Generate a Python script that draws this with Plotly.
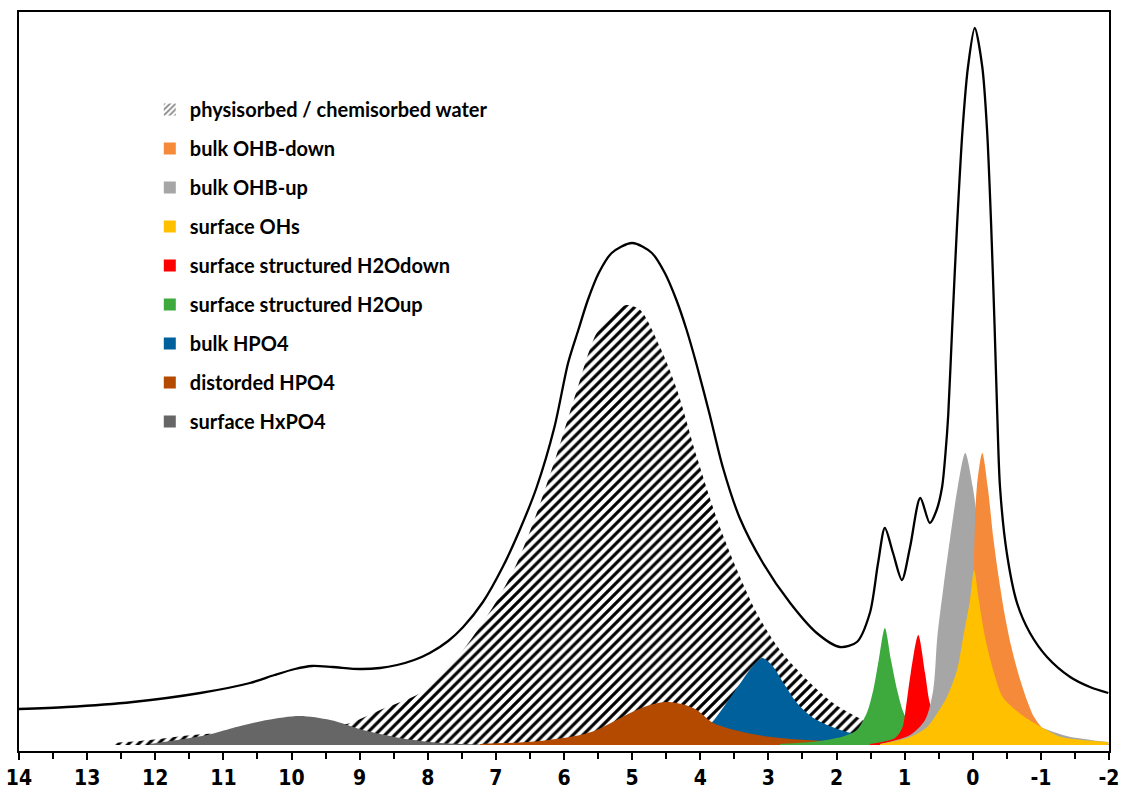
import plotly.graph_objects as go

# ---------------- data ----------------
# chemical shift (ppm) and intensity (arbitrary units)
ENV_PPM = [14.00, 13.30, 12.33, 11.34, 10.61, 10.25, 9.95, 9.70, 9.40, 9.00, 8.70, 8.45, 8.20,
           7.97, 7.70, 7.48, 7.19, 6.90, 6.65, 6.40, 6.14, 5.94, 5.79, 5.65, 5.49, 5.30, 5.00,
           4.71, 4.52, 4.35, 4.20, 4.06, 3.86, 3.67, 3.42, 3.08, 2.68, 2.29, 1.95,
           1.70, 1.51, 1.39, 1.29, 1.17, 1.04, 0.92, 0.77, 0.63, 0.53, 0.45, 0.40, 0.36,
           0.30, 0.23, 0.15, 0.07, -0.03, -0.14, -0.21, -0.27, -0.32, -0.36, -0.40, -0.50,
           -0.65, -0.84, -1.09, -1.43, -1.72, -1.99]
ENV_I = [36, 38, 43, 52, 62, 70, 76, 79, 78, 76, 77, 80, 85,
         92, 104, 118, 143, 178, 215, 258, 318, 382, 415, 445, 472, 492, 502,
         492, 472, 445, 415, 382, 330, 278, 227, 182, 142, 112, 98,
         103, 132, 182, 217, 192, 165, 198, 247, 222, 235, 258, 292, 330,
         420, 520, 615, 678, 717, 678, 615, 520, 420, 330, 258, 192,
         142, 112, 88, 68, 58, 52]

WATER_PPM = [12.62, 12.08, 11.45, 10.61, 9.88, 9.19, 8.70, 8.11, 7.72, 7.34, 6.98, 6.69, 6.40,
             6.10, 5.81, 5.52, 5.22, 5.08, 4.88, 4.59, 4.34, 4.05, 3.75, 3.46, 3.17, 2.83,
             2.43, 2.05, 1.70, 1.36, 0.77, 0.04, -0.99, -1.99]
WATER_I = [2, 5, 10, 14, 18, 21, 35, 52, 75, 108, 145, 182, 232,
           292, 355, 412, 435, 440, 435, 398, 355, 288, 225, 175, 132, 95,
           65, 42, 28, 18, 10, 5, 2, 1]

HXPO4_PPM = [12.08, 11.24, 10.86, 10.36, 9.88, 9.43, 8.95, 8.41, 7.82, 6.94]
HXPO4_I = [1, 10, 17, 25, 29, 25, 15, 7, 2, 0]

DIST_PPM = [7.23, 6.35, 5.76, 5.52, 5.03, 4.74, 4.49, 4.22, 4.05, 3.81, 3.31, 2.83, 1.85, 0.33]
DIST_I = [1, 4, 10, 15, 32, 40, 43, 40, 35, 22, 12, 7, 3, 1]

BULKP_PPM = [4.74, 4.00, 3.71, 3.42, 3.24, 3.09, 2.95, 2.76, 2.58, 2.34, 1.85, 1.07, -0.40, -1.99]
BULKP_I = [3, 10, 33, 61, 78, 87, 80, 60, 42, 27, 13, 6, 2, 1]

H2OUP_PPM = [2.83, 2.24, 1.88, 1.70, 1.55, 1.46, 1.38, 1.29, 1.20, 1.11, 1.02, 0.88, 0.63, 0.04, -1.13]
H2OUP_I = [1, 4, 9, 15, 33, 55, 85, 117, 85, 55, 33, 15, 7, 3, 1]

H2ODN_PPM = [1.51, 1.14, 1.03, 0.98, 0.91, 0.80, 0.70, 0.63, 0.52, 0.33, -0.11, -1.13]
H2ODN_I = [1, 7, 18, 38, 72, 110, 72, 42, 23, 10, 4, 1]

OHUP_PPM = [1.36, 0.92, 0.70, 0.58, 0.52, 0.43, 0.33, 0.22, 0.11, 0.00, -0.10, -0.21, -0.32,
            -0.43, -0.63, -0.88, -1.38, -1.99]
OHUP_I = [1, 10, 25, 55, 108, 158, 208, 258, 292, 258, 208, 145, 95,
          60, 38, 22, 9, 3]

OHDN_PPM = [0.63, 0.26, 0.07, 0.00, -0.06, -0.14, -0.22, -0.30, -0.38, -0.47, -0.56, -0.65,
            -0.72, -0.80, -0.90, -1.10, -1.50, -1.99]
OHDN_I = [1, 10, 45, 145, 258, 292, 258, 208, 168, 130, 100, 76,
          60, 44, 28, 12, 4, 1]

SURF_PPM = [1.36, 0.92, 0.67, 0.52, 0.38, 0.23, 0.14, 0.04, -0.02, -0.09, -0.18, -0.30, -0.44,
            -0.72, -1.03, -1.30, -1.99]
SURF_I = [1, 8, 18, 32, 48, 75, 108, 145, 175, 145, 108, 75, 48,
          30, 17, 8, 3]

LEGEND_NAMES = ["physisorbed / chemisorbed water", "bulk OHB-down", "bulk OHB-up",
                "surface OHs", "surface structured H2Odown", "surface structured H2Oup",
                "bulk HPO4", "distorded HPO4", "surface HxPO4"]
COLORS = {
    "bulk OHB-down": "#F58A3A",
    "bulk OHB-up": "#A6A6A6",
    "surface OHs": "#FFC000",
    "surface structured H2Odown": "#FF0000",
    "surface structured H2Oup": "#3EAA3E",
    "bulk HPO4": "#00609C",
    "distorded HPO4": "#B34A00",
    "surface HxPO4": "#666666",
}

TICK_VALS = [14, 13, 12, 11, 10, 9, 8, 7, 6, 5, 4, 3, 2, 1, 0, -1, -2]
TICK_TEXT = ["14", "13", "12", "11", "10", "9", "8", "7", "6", "5", "4", "3", "2", "1", "0",
             "-1", "-2"]

# ---------------- figure ----------------
fig = go.Figure()

# hatched water component (behind everything)
fig.add_trace(go.Scatter(
    x=WATER_PPM, y=WATER_I, mode="lines", fill="tozeroy",
    line=dict(width=0, shape="spline", smoothing=0.8, color="black"),
    fillpattern=dict(shape="/", fgcolor="black", bgcolor="rgba(255,255,255,0)",
                     size=7, solidity=0.45, fillmode="replace"),
    showlegend=False, hoverinfo="skip"))

components = [
    ("surface HxPO4", HXPO4_PPM, HXPO4_I),
    ("bulk HPO4", BULKP_PPM, BULKP_I),
    ("distorded HPO4", DIST_PPM, DIST_I),
    ("surface structured H2Oup", H2OUP_PPM, H2OUP_I),
    ("surface structured H2Odown", H2ODN_PPM, H2ODN_I),
    ("bulk OHB-up", OHUP_PPM, OHUP_I),
    ("bulk OHB-down", OHDN_PPM, OHDN_I),
    ("surface OHs", SURF_PPM, SURF_I),
]
for name, xs, ys in components:
    fig.add_trace(go.Scatter(
        x=xs, y=ys, mode="lines", fill="tozeroy",
        line=dict(width=0, shape="spline", smoothing=0.8, color=COLORS[name]),
        fillcolor=COLORS[name], showlegend=False, hoverinfo="skip"))

# envelope
fig.add_trace(go.Scatter(
    x=ENV_PPM, y=ENV_I, mode="lines",
    line=dict(width=2.3, shape="spline", smoothing=0.8, color="black"),
    showlegend=False, hoverinfo="skip"))

# legend entries (square swatches)
for name in LEGEND_NAMES:
    if name.startswith("physisorbed"):
        marker = dict(color="white", line=dict(width=0),
                      pattern=dict(shape="/", fgcolor="black", bgcolor="white",
                                   size=5, solidity=0.4))
    else:
        marker = dict(color=COLORS[name], line=dict(width=0))
    fig.add_trace(go.Bar(x=[None], y=[None], name=name, marker=marker,
                         legendgroup=name, showlegend=True))

fig.update_layout(
    width=1123, height=789,
    margin=dict(l=19, r=14, t=12, b=38, autoexpand=False),
    paper_bgcolor="white", plot_bgcolor="white",
    showlegend=True,
    legend=dict(x=0.120, y=0.8945, xanchor="left", yanchor="top",
                bgcolor="rgba(0,0,0,0)", borderwidth=0,
                font=dict(family="Lato, Carlito, sans-serif", size=20, color="black",
                          weight="bold"),
                tracegroupgap=10, itemwidth=30),
    xaxis=dict(range=[14, -2], tickmode="array", tickvals=TICK_VALS, ticktext=TICK_TEXT,
               automargin=False, ticklabeloverflow="allow",
               showgrid=False, zeroline=False, showline=True, linecolor="black",
               linewidth=2, mirror=True, ticks="outside", ticklen=7, tickwidth=2,
               tickcolor="black",
               minor=dict(tickmode="linear", tick0=0, dtick=0.5, ticks="outside",
                          ticklen=6, tickwidth=2, tickcolor="black"),
               tickfont=dict(family="Liberation Sans Narrow, DejaVu Sans Condensed, sans-serif",
                             size=21, color="black", weight="bold")),
    yaxis=dict(range=[-6, 733], automargin=False, showgrid=False, zeroline=False,
               showline=True, linecolor="black", linewidth=2, mirror=True,
               showticklabels=False, ticks=""),
)

# remove the browser's default 8 px body margin so the figure fills the window exactly
fig.write_html("out.html",
               config={"displayModeBar": False},
               post_script="document.body.style.margin='0';"
                           "document.body.style.overflow='hidden';")
